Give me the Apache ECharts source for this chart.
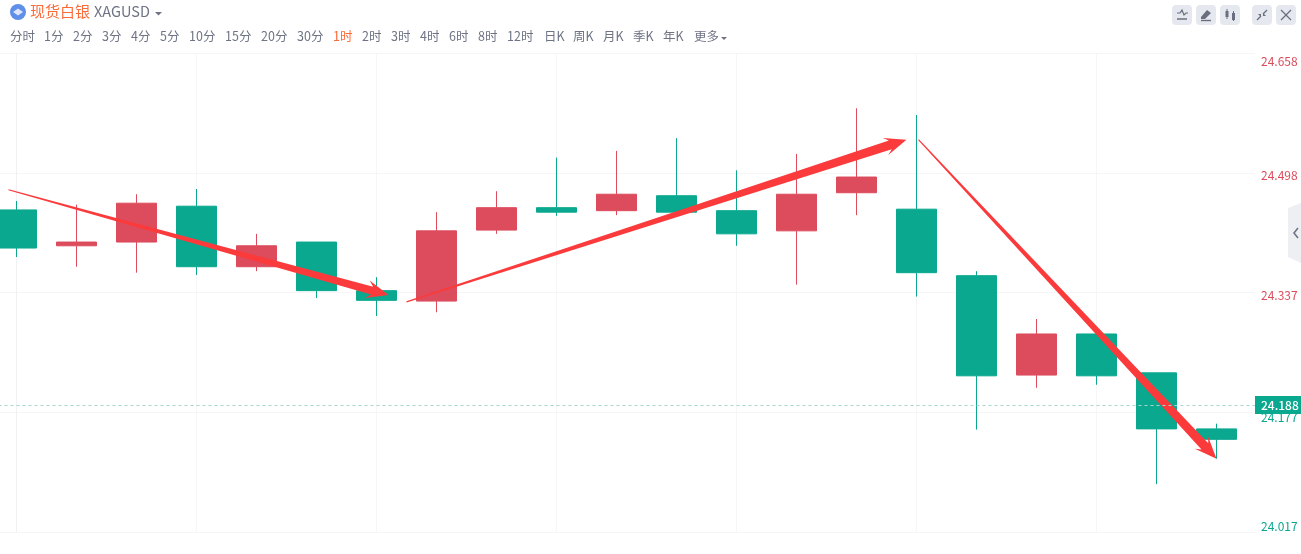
<!DOCTYPE html>
<html><head><meta charset="utf-8">
<style>html,body{margin:0;padding:0;background:#fff}#c{width:1301px;height:554px}</style>
<script src="https://cdn.jsdelivr.net/npm/echarts@6/dist/echarts.min.js"></script></head>
<body><div id="c"></div>
<script>
// candle index on the x axis
const candleIndex = [0,1,2,3,4,5,6,7,8,9,10,11,12,13,14,15,16,17,18,19,20];
const opens  = [24.448,24.400,24.405,24.453,24.372,24.405,24.340,24.326,24.421,24.451,24.447,24.467,24.447,24.420,24.471,24.449,24.360,24.227,24.282,24.230,24.155];
const closes = [24.397,24.405,24.457,24.372,24.400,24.340,24.327,24.420,24.451,24.445,24.469,24.445,24.416,24.469,24.492,24.364,24.226,24.282,24.226,24.155,24.141];
const lows   = [24.385,24.372,24.364,24.361,24.366,24.330,24.306,24.311,24.416,24.440,24.441,24.445,24.400,24.348,24.441,24.332,24.154,24.210,24.214,24.081,24.115];
const highs  = [24.460,24.455,24.469,24.476,24.416,24.405,24.358,24.445,24.473,24.518,24.527,24.544,24.501,24.523,24.584,24.575,24.366,24.302,24.282,24.230,24.162];
const yTickLabels = ['24.017','24.177','24.337','24.498','24.658'];
const lastPrice = 24.187;
const lastPriceLabel = '24.188';
// hand-drawn arrows: from [x, price] to [x, price]
const arrowFrom = [[-0.133,24.475],[6.5,24.325],[15.033,24.542]];
const arrowTo   = [[6.2,24.334],[14.833,24.542],[20,24.115]];
// header
const tabLabels = ['分时','1分','2分','3分','4分','5分','10分','15分','20分','30分','1时','2时','3时','4时','6时','8时','12时','日K','周K','月K','季K','年K','更多'];
const tabLefts  = [10,44,73,102,131,160,189,225,261,297,333,362,391,420,449,478,507,544,573,603,633,663,694];
const activeTab = '1时';
const titleCn = '现货白银';
const titleCode = 'XAGUSD';
const buttonLefts = [1172,1196,1220,1252,1276];

const RED='#dc4c5c', GREEN='#0aa88f', GRID='#f6f6f7', GRAY='#6f7485', FONT='"Noto Sans CJK SC","Noto Sans",sans-serif';
const chart = echarts.init(document.getElementById('c'),null,{renderer:'canvas'});

const g = [];
g.push({type:'circle',shape:{cx:18,cy:12,r:8},style:{fill:'#5f8fe8'}});
g.push({type:'polygon',shape:{points:[[13,12],[18,8.5],[23,12],[18,15.5]]},style:{fill:'#dfe8fb'}});
g.push({type:'text',x:30,y:11.5,style:{text:titleCn,fill:'#fb6b3a',font:'15px '+FONT,textVerticalAlign:'middle'}});
g.push({type:'text',x:94,y:11.5,style:{text:titleCode,fill:GRAY,font:'14.5px '+FONT,textVerticalAlign:'middle'}});
g.push({type:'polygon',shape:{points:[[155,12],[162,12],[158.5,15.5]]},style:{fill:GRAY}});
tabLabels.forEach((t,i)=>g.push({type:'text',x:tabLefts[i],y:36,style:{text:t,fill:t===activeTab?'#fb6b3a':GRAY,font:'12.5px '+FONT,textVerticalAlign:'middle'}}));
g.push({type:'polygon',shape:{points:[[721,37],[727,37],[724,40]]},style:{fill:GRAY}});
buttonLefts.forEach(x=>g.push({type:'rect',shape:{x:x,y:5,width:20,height:20,r:4},style:{fill:'#e6e8ef'}}));
const ic='#6a6f80';
const line=(a,b,c,d,w)=>g.push({type:'line',shape:{x1:a,y1:b,x2:c,y2:d},style:{stroke:ic,lineWidth:w||1.3}});
g.push({type:'polyline',shape:{points:[[1177,13],[1180,13],[1182,10],[1184,15],[1186,13],[1188,13]]},style:{stroke:ic,fill:'none',lineWidth:1.2}});
line(1177,19,1187,19,1.5);
g.push({type:'polygon',shape:{points:[[1201,17],[1207,10],[1211,13],[1205,19],[1201,19]]},style:{fill:ic}});
line(1201,20.5,1211,20.5,1.4);
g.push({type:'rect',shape:{x:1225.5,y:11,width:3,height:6},style:{fill:ic}});line(1227,9,1227,19,1);
g.push({type:'rect',shape:{x:1232,y:13,width:3,height:7},style:{fill:ic}});line(1233.5,11,1233.5,21,1);
line(1257,20,1261,16);line(1267,10,1263,14);
g.push({type:'polygon',shape:{points:[[1261,14],[1261,17],[1258,14]]},style:{fill:ic}});
g.push({type:'polygon',shape:{points:[[1263,16],[1263,13],[1266,16]]},style:{fill:ic}});
line(1281,10,1291,20);line(1291,10,1281,20);
g.push({type:'polygon',shape:{points:[[1288,208],[1301,203],[1301,263],[1288,257]]},style:{fill:'#eeeff2'}});
g.push({type:'polyline',shape:{points:[[1298,228],[1294,233],[1298,238]]},style:{stroke:GRAY,fill:'none',lineWidth:1.6}});

function renderArrow(params,api){
  const a=api.coord([api.value(0),api.value(1)]), b=api.coord([api.value(2),api.value(3)]);
  const dx=b[0]-a[0],dy=b[1]-a[1],L=Math.hypot(dx,dy),ux=dx/L,uy=dy/L,nx=-uy,ny=ux;
  const P=(t,w)=>[a[0]+ux*t+nx*w,a[1]+uy*t+ny*w];
  const h=L-20, t0=0.6, t1=L>400?4.6:4.0, hw=9;
  const pts=[P(0,t0),P(h+3,t1),P(h-2,hw),P(L,0),P(h-2,-hw),P(h+3,-t1),P(0,-t0)];
  return {type:'polygon',shape:{points:pts},style:{fill:'#fb3a3c'},z2:10};
}

chart.setOption({
  animation:false,
  backgroundColor:'#fff',
  textStyle:{fontFamily:FONT},
  grid:{left:-163.5,right:46,top:53,bottom:22,containLabel:false,outerBoundsMode:'none'},
  xAxis:{type:'value',min:-3,max:1238.5/60,interval:3,
    axisLine:{show:true,onZero:false,lineStyle:{color:GRID}},axisTick:{show:false},axisLabel:{show:false},
    splitLine:{show:true,showMaxLine:false,lineStyle:{color:GRID,width:1}}},
  yAxis:{type:'value',position:'right',min:24.017,max:24.658,interval:0.16025,
    axisLine:{show:true,lineStyle:{color:'#f1f1f3'}},axisTick:{show:false},
    splitLine:{show:true,lineStyle:{color:GRID,width:1}},
    axisLabel:{show:true,inside:false,margin:6,fontSize:12,fontFamily:FONT,
      verticalAlignMinLabel:'bottom',verticalAlignMaxLabel:'top',
      color:(v,i)=>i<2?GREEN:RED,
      rich:{p2:{padding:[2,0,0,0]},p6:{padding:[6,0,0,0]},p10:{padding:[10,0,0,0]}},
      formatter:(v,i)=>{const k=['','p10','p6','p6','p2'][i];return k?'{'+k+'|'+yTickLabels[i]+'}':yTickLabels[i];}}},
  graphic:{elements:g},
  series:[
   {type:'candlestick',barWidth:40,encode:{x:0,y:[1,2,3,4]},clip:false,
    itemStyle:{color:RED,color0:GREEN,borderColor:RED,borderColor0:GREEN,borderWidth:1},
    data:candleIndex.map((x,i)=>[x,opens[i],closes[i],lows[i],highs[i]]),
    markLine:{silent:true,symbol:'none',animation:false,z:20,precision:3,
      lineStyle:{type:[3,3],color:'#a9d5cd',width:1},
      label:{show:true,position:'end',distance:0,formatter:lastPriceLabel,color:'#fff',fontSize:12,fontWeight:500,backgroundColor:GREEN,padding:[3,3,3,6],lineHeight:12,width:37,align:'left'},
      data:[{yAxis:lastPrice}]}},
   {type:'custom',renderItem:renderArrow,clip:false,z:10,encode:{x:[0,2],y:[1,3]},
    data:arrowFrom.map((f,i)=>[f[0],f[1],arrowTo[i][0],arrowTo[i][1]])}
  ]
});
</script></body></html>
